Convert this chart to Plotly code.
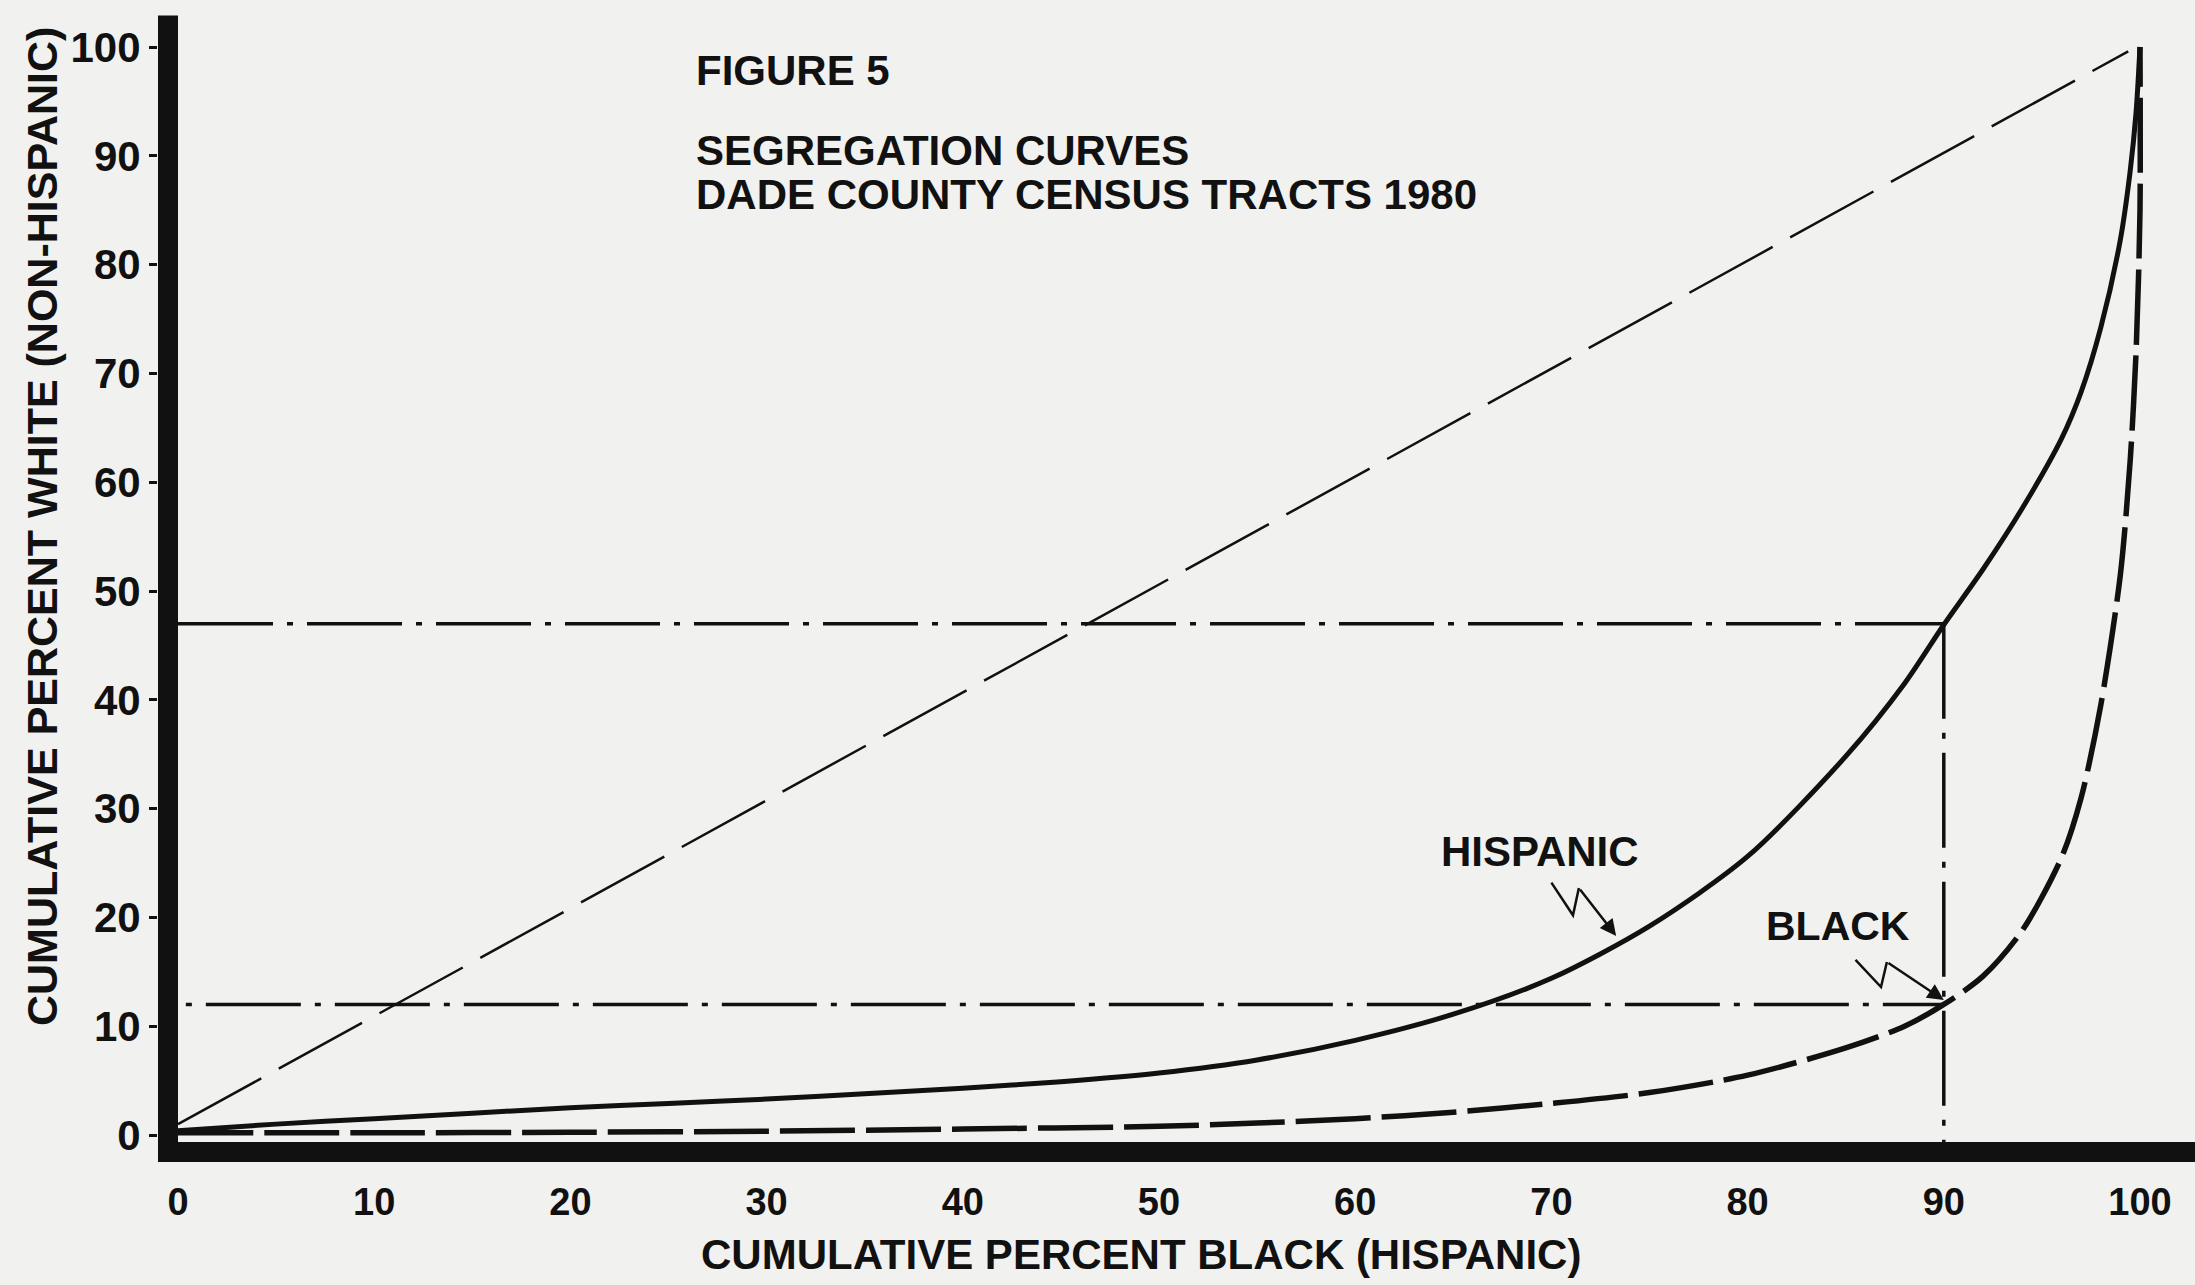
import plotly.graph_objects as go

# ---------------- data ----------------
x_ticks = [0, 10, 20, 30, 40, 50, 60, 70, 80, 90, 100]
y_ticks = [0, 10, 20, 30, 40, 50, 60, 70, 80, 90, 100]

equality_x = [0, 99.4]
equality_y = [1.0, 99.6]

hispanic_x = [0, 5, 10, 15, 20, 25, 30, 35, 40, 45, 50, 55, 60, 65, 70, 75, 80, 85, 88,
              90, 92, 94, 96, 97, 98, 99, 99.5, 99.8, 100]
hispanic_y = [0.4, 1.0, 1.5, 2.0, 2.5, 2.9, 3.3, 3.8, 4.3, 4.9, 5.7, 6.9, 8.7, 11.1, 14.4,
              19.2, 25.6, 34.8, 41.5, 46.9, 52.0, 57.6, 64.0, 68.3, 74.2, 82.3, 88.6, 94.0, 100]

black_x = [0, 10, 20, 30, 40, 50, 55, 60, 65, 70, 75, 80, 85, 88, 90, 92, 94, 96, 97, 98,
           99, 99.5, 99.8, 100, 100]
black_y = [0.2, 0.2, 0.25, 0.35, 0.55, 0.8, 1.1, 1.5, 2.1, 2.9, 3.9, 5.5, 8.0, 10.0, 12.0,
           14.6, 18.8, 25.5, 31.0, 39.5, 51.5, 62.0, 72.0, 85.0, 100.0]

ref_x = 90          # cumulative percent black / hispanic
hisp_ref_y = 47     # hispanic curve at 90
black_ref_y = 12    # black curve at 90

title_lines = ["FIGURE 5", "SEGREGATION CURVES", "DADE COUNTY CENSUS TRACTS 1980"]
x_title = "CUMULATIVE PERCENT BLACK (HISPANIC)"
y_title = "CUMULATIVE PERCENT WHITE (NON-HISPANIC)"

# ---------------- figure ----------------
W, H = 2195, 1285
L, R, T, B = 158, 0, 10, 123
KX, KY = 19.62, 10.88
xmin = -(178 - L) / KX
xmax = xmin + (W - L - R) / KX
ymin = -(1162 - 1135) / KY
ymax = ymin + (H - T - B) / KY

FONT = "Liberation Sans, Arial, sans-serif"
INK = "#111111"
BG = "#f1f1ef"

fig = go.Figure()

fig.add_trace(go.Scatter(x=equality_x, y=equality_y, mode="lines",
                         line=dict(color=INK, width=2.5, dash="95px,20px"),
                         hoverinfo="skip", showlegend=False))

# reference dash-dot lines
fig.add_trace(go.Scatter(x=[0, ref_x], y=[hisp_ref_y, hisp_ref_y], mode="lines",
                         line=dict(color=INK, width=3.5, dash="95px,14px,6px,14px"),
                         showlegend=False))
fig.add_trace(go.Scatter(x=[0.4, ref_x], y=[black_ref_y, black_ref_y], mode="lines",
                         line=dict(color=INK, width=3.5, dash="6px,14px,95px,14px"),
                         showlegend=False))
fig.add_trace(go.Scatter(x=[ref_x, ref_x], y=[hisp_ref_y, -1.5], mode="lines",
                         line=dict(color=INK, width=3.5, dash="95px,14px,6px,14px"),
                         showlegend=False))

fig.add_trace(go.Scatter(x=hispanic_x, y=hispanic_y, mode="lines", name="HISPANIC",
                         line=dict(color=INK, width=5, shape="spline", smoothing=0.8),
                         showlegend=False))
fig.add_trace(go.Scatter(x=black_x, y=black_y, mode="lines", name="BLACK",
                         line=dict(color=INK, width=5.5, dash="75px,11px",
                                   shape="spline", smoothing=0.8),
                         showlegend=False))

shapes = [
    # thick axes
    dict(type="line", xref="x", yref="y", x0=xmin, x1=xmax, y0=-1.56, y1=-1.56,
         line=dict(color=INK, width=20), layer="above"),
    dict(type="line", xref="x", yref="y", x0=-0.51, x1=-0.51, y0=ymin, y1=102.9,
         line=dict(color=INK, width=20), layer="above"),
    # lightning-bolt leaders
    dict(type="path", xref="x", yref="y",
         path="M 70.0,23.2 L 71.1,20.2 L 71.4,22.7",
         line=dict(color=INK, width=2.5)),
    dict(type="path", xref="x", yref="y",
         path="M 85.5,16.1 L 86.8,13.6 L 87.1,15.9",
         line=dict(color=INK, width=2.5)),
]

def px_to_paper_x(px):
    return (px - L) / (W - L - R)

def px_to_paper_y(py):
    return (H - B - py) / (H - T - B)

annotations = [
    dict(text=title_lines[0], x=px_to_paper_x(694), y=px_to_paper_y(70)),
    dict(text=title_lines[1], x=px_to_paper_x(694), y=px_to_paper_y(150)),
    dict(text=title_lines[2], x=px_to_paper_x(694), y=px_to_paper_y(194)),
]
annotations = [dict(a, xref="paper", yref="paper", xanchor="left", yanchor="middle",
                    showarrow=False, font=dict(family=FONT, size=42, color=INK, weight="bold"))
               for a in annotations]

annotations += [
    dict(text=x_title, xref="paper", yref="paper", x=px_to_paper_x(1141), y=px_to_paper_y(1254),
         xanchor="center", yanchor="middle", showarrow=False,
         font=dict(family=FONT, size=42, color=INK, weight="bold")),
    dict(text=y_title, xref="paper", yref="paper", x=px_to_paper_x(42), y=px_to_paper_y(527),
         xanchor="center", yanchor="middle", showarrow=False, textangle=-90,
         font=dict(family=FONT, size=43, color=INK, weight="bold")),
    dict(text="HISPANIC", xref="x", yref="y", x=69.4, y=26.1, showarrow=False,
         xanchor="center", yanchor="middle",
         font=dict(family=FONT, size=42, color=INK, weight="bold")),
    dict(text="BLACK", xref="x", yref="y", x=84.6, y=19.2, showarrow=False,
         xanchor="center", yanchor="middle",
         font=dict(family=FONT, size=41, color=INK, weight="bold")),
    # arrow heads of leaders
    dict(text="", xref="x", yref="y", axref="x", ayref="y", x=73.3, y=18.3, ax=71.4, ay=22.7,
         showarrow=True, arrowhead=2, arrowsize=1.3, arrowwidth=2.5, arrowcolor=INK, standoff=0),
    dict(text="", xref="x", yref="y", axref="x", ayref="y", x=90.0, y=12.4, ax=87.1, ay=15.9,
         showarrow=True, arrowhead=2, arrowsize=1.3, arrowwidth=2.5, arrowcolor=INK, standoff=0),
]

fig.update_layout(
    width=W, height=H,
    margin=dict(l=L, r=R, t=T, b=B, autoexpand=False),
    paper_bgcolor=BG, plot_bgcolor=BG,
    shapes=shapes, annotations=annotations,
    showlegend=False,
    font=dict(family=FONT, color=INK),
)
fig.update_xaxes(range=[xmin, xmax], tickvals=x_ticks, ticktext=[str(v) for v in x_ticks],
                 showgrid=False, zeroline=False, showline=False,
                 ticks="outside", ticklen=6, tickcolor="rgba(0,0,0,0)",
                 tickfont=dict(family=FONT, size=38, color=INK, weight="bold"))
fig.update_yaxes(range=[ymin, ymax], tickvals=y_ticks, ticktext=[str(v) for v in y_ticks],
                 showgrid=False, zeroline=False, showline=False,
                 ticks="outside", ticklen=8, tickwidth=2.5, tickcolor=INK,
                 tickfont=dict(family=FONT, size=42, color=INK, weight="bold"))

fig.write_html("out.html")
